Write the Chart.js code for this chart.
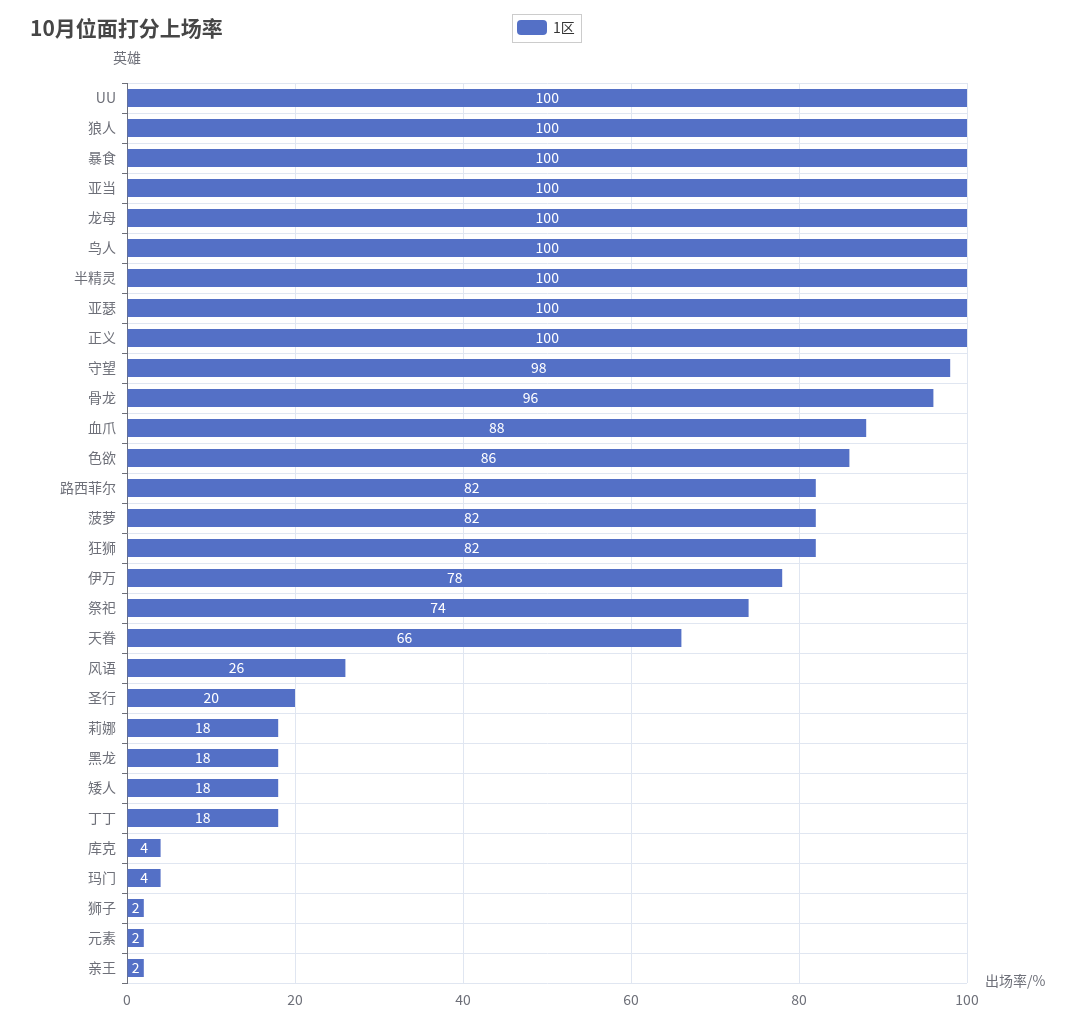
<!DOCTYPE html>
<html>
<head>
<meta charset="utf-8">
<script src="https://cdn.jsdelivr.net/npm/chart.js@4/dist/chart.umd.min.js"></script>
<style>
  html, body { margin: 0; padding: 0; background: #fff; }
  #wrap { width: 1080px; height: 1023px; }
</style>
</head>
<body>
<div id="wrap"><canvas id="chart"></canvas></div>
<script>
// data
const heroes = ['UU', '狼人', '暴食', '亚当', '龙母', '鸟人', '半精灵', '亚瑟', '正义', '守望',
  '骨龙', '血爪', '色欲', '路西菲尔', '菠萝', '狂狮', '伊万', '祭祀', '天眷', '风语',
  '圣行', '莉娜', '黑龙', '矮人', '丁丁', '库克', '玛门', '狮子', '元素', '亲王'];
const rates = [100, 100, 100, 100, 100, 100, 100, 100, 100, 98,
  96, 88, 86, 82, 82, 82, 78, 74, 66, 26,
  20, 18, 18, 18, 18, 4, 4, 2, 2, 2];
const xTicks = [0, 20, 40, 60, 80, 100];
const seriesName = '1区';
const titleText = '10月位面打分上场率';

const FONT = '"Noto Sans CJK SC", "Noto Sans", sans-serif';
const axisGray = '#6e7079';
const gridGray = '#e0e6f1';
const barBlue = '#5470c6';

// title, legend, axis names, bar labels
const extras = {
  id: 'extras',
  afterDatasetsDraw(chart) {
    const ctx = chart.ctx;
    const meta = chart.getDatasetMeta(0);
    ctx.save();
    ctx.fillStyle = '#fff';
    ctx.font = '14px ' + FONT;
    ctx.textAlign = 'center';
    ctx.textBaseline = 'middle';
    meta.data.forEach((bar, i) => {
      const cx = (bar.x + bar.base) / 2;
      ctx.fillText(String(rates[i]), cx, bar.y);
    });
    ctx.restore();
  },
  afterDraw(chart) {
    const ctx = chart.ctx;
    const area = chart.chartArea;
    ctx.save();
    // title
    ctx.fillStyle = '#464646';
    ctx.font = 'bold 21px ' + FONT;
    ctx.textAlign = 'left';
    ctx.textBaseline = 'middle';
    ctx.fillText(titleText, 30, 28);

    // legend
    ctx.strokeStyle = '#ccc';
    ctx.lineWidth = 1;
    ctx.strokeRect(512.5, 14.5, 69, 28);
    ctx.fillStyle = barBlue;
    ctx.beginPath();
    ctx.roundRect(517, 20, 30, 15, 4);
    ctx.fill();
    ctx.fillStyle = '#333';
    ctx.font = '14px ' + FONT;
    ctx.fillText(seriesName, 553, 28);

    // axis names
    ctx.fillStyle = axisGray;
    ctx.textAlign = 'center';
    ctx.fillText('英雄', area.left, 58);
    ctx.textAlign = 'left';
    ctx.fillText('出场率/%', area.right + 18, 981);
    ctx.restore();
  }
};

new Chart(document.getElementById('chart'), {
  type: 'bar',
  data: {
    labels: heroes,
    datasets: [{
      label: seriesName,
      data: rates,
      backgroundColor: barBlue,
      barPercentage: 0.6,
      categoryPercentage: 1.0
    }]
  },
  options: {
    indexAxis: 'y',
    responsive: true,
    maintainAspectRatio: false,
    animation: false,
    layout: { padding: { top: 83, left: 0, right: 113, bottom: 10 } },
    plugins: {
      legend: { display: false },
      title: { display: false },
      tooltip: { enabled: false }
    },
    scales: {
      x: {
        min: 0,
        max: 100,
        afterBuildTicks(scale) {
          scale.ticks = xTicks.map(v => ({ value: v }));
        },
        afterFit(scale) { scale.height = 30; },
        grid: { color: gridGray, drawTicks: false },
        border: { display: false },
        ticks: { color: axisGray, padding: 8, font: { size: 14, family: FONT } }
      },
      y: {
        afterFit(scale) { scale.width = 127; },
        grid: { offset: true, color: gridGray, tickColor: axisGray, tickLength: 5 },
        border: { display: true, color: axisGray },
        ticks: { color: axisGray, padding: 6, font: { size: 14, family: FONT } }
      }
    }
  },
  plugins: [extras]
});
</script>
</body>
</html>
